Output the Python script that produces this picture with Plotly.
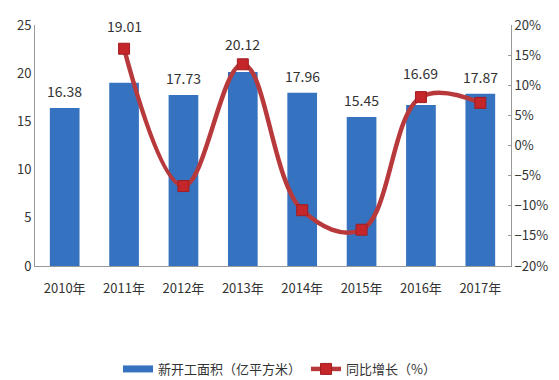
import plotly.graph_objects as go

years = ["2010年", "2011年", "2012年", "2013年", "2014年", "2015年", "2016年", "2017年"]
area = [16.38, 19.01, 17.73, 20.12, 17.96, 15.45, 16.69, 17.87]
growth_years = ["2011年", "2012年", "2013年", "2014年", "2015年", "2016年", "2017年"]
growth = [16.06, -6.73, 13.48, -10.74, -13.98, 8.03, 7.07]
# extra lift (px) for labels that sit above the growth-line markers
label_lift = [5, 45, 5, 16, 5, 5, 20, 5]

font = "Microsoft YaHei, Noto Sans CJK SC, sans-serif"
blue = "#3572C0"
red = "#B8393B"

fig = go.Figure()
fig.add_trace(go.Bar(
    x=years, y=area, name="新开工面积（亿平方米）", showlegend=False,
    marker=dict(color=blue, line=dict(width=0)),
))
# legend stand-in for bars (wide rectangle)
fig.add_trace(go.Scatter(
    x=[None], y=[None], name="新开工面积（亿平方米）", mode="lines",
    line=dict(color=blue, width=7),
))
fig.add_trace(go.Scatter(
    x=growth_years, y=growth, name="同比增长（%）", yaxis="y2",
    mode="lines+markers", line=dict(color=red, width=4.5, shape="spline", smoothing=1.1),
    marker=dict(symbol="square", size=11, color="#C4262A", line=dict(color="#A01E22", width=1)),
))

for yr, v, lift in zip(years, area, label_lift):
    fig.add_annotation(x=yr, y=v, xref="x", yref="y", text=f"{v:.2f}", showarrow=False,
                       yanchor="bottom", yshift=lift, font=dict(size=14, color="#333333"))

fig.update_layout(
    width=559, height=380,
    margin=dict(l=35, r=48, t=25, b=114, autoexpand=False),
    paper_bgcolor="white", plot_bgcolor="white",
    font=dict(family=font, size=13, color="#333333"),
    bargap=0.5,
    showlegend=True,
    legend=dict(orientation="h", xref="container", yref="container",
                x=0.5, xanchor="center", y=0.029, yanchor="middle",
                font=dict(size=13, color="#333333"), itemwidth=30, tracegroupgap=0),
    xaxis=dict(showline=True, linecolor="#999999", linewidth=1, ticks="", automargin=False,
               tickfont=dict(size=13), showgrid=False, ticklabelstandoff=10),
    yaxis=dict(range=[0, 25], dtick=5, showline=True, linecolor="#999999", linewidth=1,
               automargin=False,
               showgrid=False, zeroline=False, ticks="", tickfont=dict(size=13)),
    yaxis2=dict(range=[-20, 20], dtick=5, overlaying="y", side="right", ticksuffix="%",
                automargin=False,
                showline=True, linecolor="#999999", linewidth=1, showgrid=False, zeroline=False,
                ticks="inside", ticklen=3, tickcolor="#999999", tickfont=dict(size=13)),
)
fig.write_html("out.html")
